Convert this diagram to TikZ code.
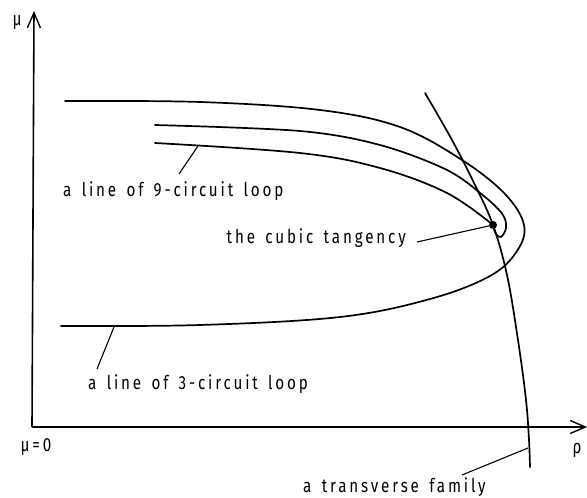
\documentclass[tikz,border=0pt]{standalone}
\usepackage{fontspec}
\setmainfont{Fira Sans}
\newfontfamily\lblfont[FakeStretch=0.8,LetterSpace=15,WordSpace=1.5]{Fira Sans}
\usetikzlibrary{arrows.meta}
\begin{document}
\begin{tikzpicture}[x=1pt,y=-1pt,
  axis/.style={line width=1.6pt, -{Straight Barb[length=15pt,width=13pt,line width=1.4pt]}},
  curve/.style={line width=1.7pt, line cap=round, line join=round},
  leader/.style={line width=1.1pt},
  lbl/.style={font=\lblfont\fontsize{19}{22}\selectfont, inner sep=0pt}]
\useasboundingbox (0,0) rectangle (587,498);
% axes
\coordinate (O) at (32,427);
\coordinate (ytip) at (34,11);
\coordinate (xtip) at (587,427);
\draw[axis] (O) -- (ytip);
\draw[axis] (O) -- (xtip);
\node[lbl] (mu) at (17,23) {μ};
\node[lbl] (mu0) at (36,447) {μ=0};
\node[lbl] (rho) at (577,450) {ρ};
% outer curve (3-circuit loop)
\draw[curve] plot[smooth, tension=0.6] coordinates {(65,101) (200,102) (320,110) (400,127) (462,160) (505,194) (524,225) (517,251) (490,276) (430,299) (340,317) (200,325) (61,326)};
% 9-circuit hairpin
\draw[curve] plot[smooth, tension=0.55] coordinates {(155,125) (300,131) (380,145) (447,170) (485,197) (503,215) (506,228) (501,237) (496,234) (493,226)};
\draw[curve] plot[smooth, tension=0.6] coordinates {(155,143) (300,153) (380,168) (447,193) (493,225)};
% transverse family
\draw[curve] plot[smooth, tension=0.6] coordinates {(425,93) (452,140) (475,185) (493,225) (507,275) (518,340) (526,400) (529,440) (530,467)};
% cubic tangency dot
\node[circle, fill, inner sep=0pt, minimum size=8pt] (dot) at (493,225) {};
% labels
\node[lbl, anchor=west] (t9) at (63,191) {a line of 9-circuit loop};
\node[lbl, anchor=west] (t3) at (88,384) {a line of 3-circuit loop};
\node[lbl, anchor=east] (tc) at (406,238) {the cubic tangency};
\node[lbl, anchor=west] (tt) at (303,487) {a transverse family};
% leaders
\coordinate (l9a) at (179,174);
\coordinate (l9b) at (198,146);
\coordinate (l3a) at (97,369);
\coordinate (l3b) at (114,327);
\coordinate (lca) at (417,242);
\coordinate (lta) at (462,475);
\coordinate (ltb) at (528,448);
\draw[leader] (l9a) -- (l9b);
\draw[leader] (l3a) -- (l3b);
\draw[leader] (lca) -- (dot);
\draw[leader] (lta) -- (ltb);
\end{tikzpicture}
\end{document}
